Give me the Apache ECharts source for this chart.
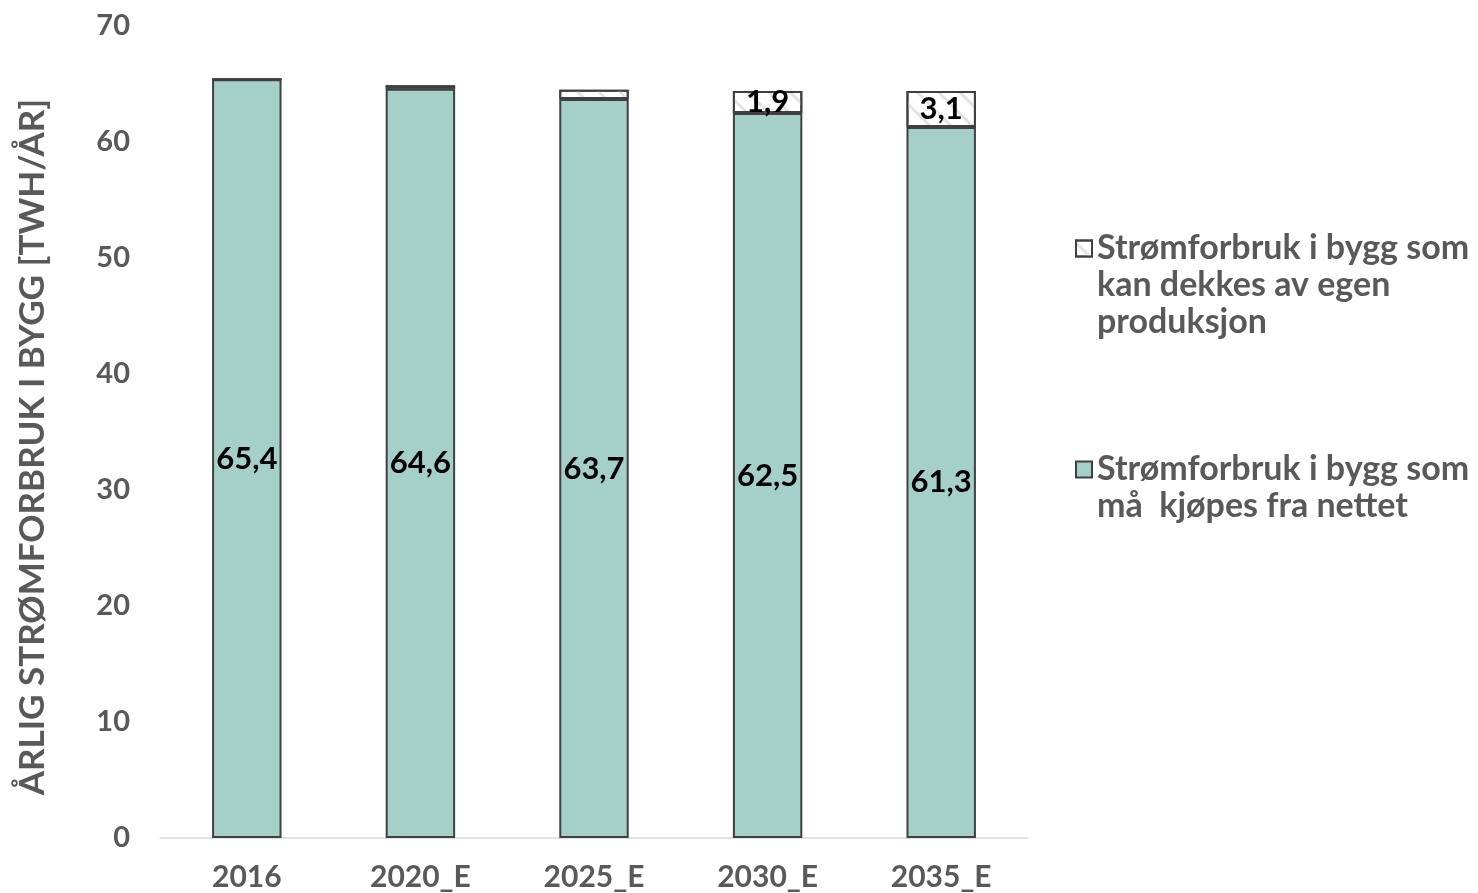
<!DOCTYPE html>
<html>
<head>
<meta charset="utf-8">
<script src="https://cdn.jsdelivr.net/npm/echarts@6/dist/echarts.min.js"></script>
<style>
html,body{margin:0;padding:0;background:#fff;}
#chart{width:1478px;height:893px;}
</style>
</head>
<body>
<div id="chart"></div>
<script>
const categories = ['2016', '2020_E', '2025_E', '2030_E', '2035_E'];
const boughtFromGrid = [65.4, 64.6, 63.7, 62.5, 61.3];
const ownProduction = [0, 0.3, 0.8, 1.9, 3.1];
const yTicks = [0, 10, 20, 30, 40, 50, 60, 70];
const nameOwn = 'Strømforbruk i bygg som\nkan dekkes av egen\nproduksjon';
const nameGrid = 'Strømforbruk i bygg som\nmå  kjøpes fra nettet';

const FONT = 'Lato';
const GRAY = '#595959';
const fmt = v => String(v).replace('.', ',');

const chart = echarts.init(document.getElementById('chart'));
chart.setOption({
  animation: false,
  backgroundColor: '#fff',
  textStyle: { fontFamily: FONT },
  grid: { left: 160, right: 450, top: 26, bottom: 55, containLabel: false },
  legend: [
    {
      data: [nameOwn],
      orient: 'vertical',
      icon: 'rect',
      left: 1070,
      top: 151,
      itemWidth: 16, itemHeight: 16,
      formatter: n => '\n\n' + n,
      textStyle: { fontFamily: FONT, fontSize: 34, fontWeight: 'bold', color: GRAY, lineHeight: 37 }
    },
    {
      data: [nameGrid],
      orient: 'vertical',
      icon: 'rect',
      left: 1070,
      top: 409,
      itemWidth: 16, itemHeight: 16,
      formatter: n => '\n' + n,
      textStyle: { fontFamily: FONT, fontSize: 34, fontWeight: 'bold', color: GRAY, lineHeight: 37 }
    }
  ],
  xAxis: {
    type: 'category',
    data: categories,
    axisLine: { show: true, lineStyle: { color: '#d9d9d9', width: 1.5 } },
    axisTick: { show: false },
    axisLabel: { fontFamily: FONT, fontSize: 30, fontWeight: 'bold', color: GRAY, margin: 24 }
  },
  yAxis: {
    type: 'value',
    min: yTicks[0],
    max: yTicks[yTicks.length - 1],
    interval: 10,
    name: 'ÅRLIG STRØMFORBRUK I BYGG [TWH/ÅR]',
    nameLocation: 'middle',
    nameGap: 110,
    nameTextStyle: { fontFamily: FONT, fontSize: 35, fontWeight: 'bold', color: GRAY, padding: [0, 30, 0, 0] },
    axisLine: { show: false },
    axisTick: { show: false },
    splitLine: { show: false },
    axisLabel: { fontFamily: FONT, fontSize: 29, fontWeight: 'bold', color: GRAY, margin: 30 }
  },
  series: [
    {
      name: nameGrid,
      type: 'bar',
      stack: 'total',
      data: boughtFromGrid,
      barWidth: '40%',
      itemStyle: { color: '#a5d0ca', borderColor: '#404040', borderWidth: 2 },
      label: {
        show: true, position: 'inside',
        fontFamily: FONT, fontSize: 31, fontWeight: 'bold', color: '#000',
        formatter: p => fmt(p.value)
      }
    },
    {
      name: nameOwn,
      type: 'bar',
      stack: 'total',
      data: ownProduction,
      barWidth: '40%',
      itemStyle: {
        color: '#ffffff', borderColor: '#404040', borderWidth: 2,
        decal: { symbol: 'rect', symbolSize: 1, dashArrayX: [1, 0], dashArrayY: [3, 12], rotation: Math.PI / 4, color: '#e3e3e3' }
      },
      label: {
        show: true, position: 'inside',
        fontFamily: FONT, fontSize: 31, fontWeight: 'bold', color: '#000',
        formatter: p => (p.value >= 1 ? fmt(p.value) : '')
      }
    }
  ]
});
</script>
</body>
</html>
